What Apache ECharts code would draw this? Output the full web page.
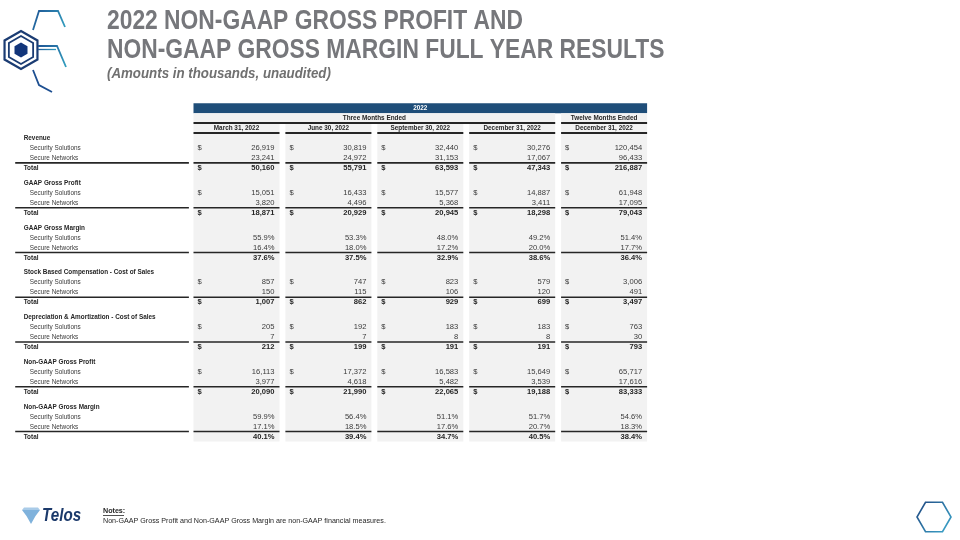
<!DOCTYPE html>
<html>
<head>
<meta charset="utf-8">
<title>2022 Non-GAAP Gross Profit and Gross Margin</title>
<script src="https://cdn.jsdelivr.net/npm/echarts@6/dist/echarts.min.js"></script>
<style>
  html, body { margin: 0; padding: 0; background: #fff; }
  #chart { width: 960px; height: 540px; }
</style>
</head>
<body>
<div id="chart"></div>
<script>
// ---- table data (amounts in thousands) ----
const yearLabel = '2022';
const groupLabels = ['Three Months Ended', 'Twelve Months Ended'];
const periodLabels = ['March 31, 2022', 'June 30, 2022', 'September 30, 2022', 'December 31, 2022', 'December 31, 2022'];
const sectionTitles = [
  'Revenue',
  'GAAP Gross Profit',
  'GAAP Gross Margin',
  'Stock Based Compensation - Cost of Sales',
  'Depreciation & Amortization - Cost of Sales',
  'Non-GAAP Gross Profit',
  'Non-GAAP Gross Margin'
];
const rowLabels = ['Security Solutions', 'Secure Networks', 'Total'];
const sectionIsPercent = [false, false, true, false, false, false, true];

const revenueSecurity = [26919, 30819, 32440, 30276, 120454];
const revenueNetworks = [23241, 24972, 31153, 17067, 96433];
const revenueTotal = [50160, 55791, 63593, 47343, 216887];

const gaapProfitSecurity = [15051, 16433, 15577, 14887, 61948];
const gaapProfitNetworks = [3820, 4496, 5368, 3411, 17095];
const gaapProfitTotal = [18871, 20929, 20945, 18298, 79043];

const gaapMarginSecurity = [55.9, 53.3, 48.0, 49.2, 51.4];
const gaapMarginNetworks = [16.4, 18.0, 17.2, 20.0, 17.7];
const gaapMarginTotal = [37.6, 37.5, 32.9, 38.6, 36.4];

const stockCompSecurity = [857, 747, 823, 579, 3006];
const stockCompNetworks = [150, 115, 106, 120, 491];
const stockCompTotal = [1007, 862, 929, 699, 3497];

const deprSecurity = [205, 192, 183, 183, 763];
const deprNetworks = [7, 7, 8, 8, 30];
const deprTotal = [212, 199, 191, 191, 793];

const nonGaapProfitSecurity = [16113, 17372, 16583, 15649, 65717];
const nonGaapProfitNetworks = [3977, 4618, 5482, 3539, 17616];
const nonGaapProfitTotal = [20090, 21990, 22065, 19188, 83333];

const nonGaapMarginSecurity = [59.9, 56.4, 51.1, 51.7, 54.6];
const nonGaapMarginNetworks = [17.1, 18.5, 17.6, 20.7, 18.3];
const nonGaapMarginTotal = [40.1, 39.4, 34.7, 40.5, 38.4];

const sectionRows = [
  [revenueSecurity, revenueNetworks, revenueTotal],
  [gaapProfitSecurity, gaapProfitNetworks, gaapProfitTotal],
  [gaapMarginSecurity, gaapMarginNetworks, gaapMarginTotal],
  [stockCompSecurity, stockCompNetworks, stockCompTotal],
  [deprSecurity, deprNetworks, deprTotal],
  [nonGaapProfitSecurity, nonGaapProfitNetworks, nonGaapProfitTotal],
  [nonGaapMarginSecurity, nonGaapMarginNetworks, nonGaapMarginTotal]
];

// ---- layout (axis units: one column pitch on x, one row on y) ----
const COL_W = 0.936;          // width of a value column
const LABEL_X = -2;           // left edge of the label column
const SECTION_STEP = 4.5;     // 4 rows + half row gap
const LAST_Y = (sectionTitles.length - 1) * SECTION_STEP + 3;
const NARROW = "'Liberation Sans Narrow', 'Liberation Sans', Arial, sans-serif";
const WIDE = "'Liberation Sans', Arial, sans-serif";
const TXT = 7.6;
const SQUEEZE = 0.84;         // Calibri-like width for labels

const GRAY = '#f2f2f2';
const BLUE = '#1f4e79';
const INK = '#262626';
const SOFT = '#3a3a3a';

const fmt = (v, pct) => pct ? v.toFixed(1) + '%' : v.toLocaleString('en-US');

// build cells
const rects = [];   // [x0, y0, x1, y1] + fill
const rules = [];   // [x0, y, x1] + width
const texts = [];   // [x, y] + text props

function addText(x, y, text, o) {
  texts.push(Object.assign({
    value: [x, y], text: text, dx: 0, align: 'left', bold: false,
    color: null, font: NARROW, sx: SQUEEZE
  }, o || {}));
}

// header bands
const lastCol = periodLabels.length - 1;
rects.push({ value: [0, -3.5, lastCol + COL_W, -2.5], fill: BLUE });
addText((lastCol + COL_W) / 2, -3, yearLabel, { align: 'center', bold: true, color: '#ffffff' });

rects.push({ value: [0, -2.5, lastCol - 1 + COL_W, -1.5], fill: GRAY });
rects.push({ value: [lastCol, -2.5, lastCol + COL_W, -1.5], fill: GRAY });
addText((lastCol - 1 + COL_W) / 2, -2, groupLabels[0], { align: 'center', bold: true });
addText(lastCol + COL_W / 2, -2, groupLabels[1], { align: 'center', bold: true });
rules.push({ value: [0, -1.5, lastCol - 1 + COL_W], width: 2 });
rules.push({ value: [lastCol, -1.5, lastCol + COL_W], width: 2 });

periodLabels.forEach((p, c) => {
  rects.push({ value: [c, -1.5, c + COL_W, LAST_Y + 0.5], fill: GRAY });
  addText(c + COL_W / 2, -1, p, { align: 'center', bold: true });
  rules.push({ value: [c, -0.5, c + COL_W], width: 2 });
});

// body
sectionTitles.forEach((title, s) => {
  const y0 = s * SECTION_STEP;
  const pct = sectionIsPercent[s];
  addText(LABEL_X, y0, title, { dx: 14, bold: true });
  sectionRows[s].forEach((vals, r) => {
    const y = y0 + 1 + r;
    const isTotal = r === 2;
    addText(LABEL_X, y, rowLabels[r], { dx: isTotal ? 14 : 20, bold: isTotal });
    vals.forEach((v, c) => {
      if (!pct && r !== 1) addText(c, y, '$', { dx: 4, bold: isTotal, font: WIDE, sx: 1 });
      addText(c + COL_W, y, fmt(v, pct), { dx: -5, align: 'right', bold: isTotal, font: WIDE, sx: 1 });
    });
  });
  rules.push({ value: [LABEL_X + 0.06, y0 + 2.5, -0.05], width: 1.6 });
  periodLabels.forEach((p, c) => {
    rules.push({ value: [c, y0 + 2.5, c + COL_W], width: 1.6 });
  });
});

// ---- decorations ----
function hexPoints(cx, cy, r, pointyTop) {
  const pts = [];
  for (let i = 0; i < 6; i++) {
    const a = Math.PI / 180 * (60 * i + (pointyTop ? 30 : 0));
    pts.push([cx + r * Math.cos(a), cy + r * Math.sin(a)]);
  }
  return pts;
}
const logoGrad = new echarts.graphic.LinearGradient(0, 0, 1, 1, [
  { offset: 0, color: '#1d4f91' }, { offset: 1, color: '#35a7c4' }
]);
const titleStyle = { fontFamily: NARROW, fontSize: 28, fontWeight: 'bold', fill: '#76777b', verticalAlign: 'middle' };

const chart = echarts.init(document.getElementById('chart'));

const option = {
  animation: false,
  backgroundColor: '#ffffff',
  grid: { left: 9.7, right: 312.9, top: 103.2, bottom: 98.5 },
  xAxis: { type: 'value', min: LABEL_X, max: lastCol + COL_W, show: false },
  yAxis: { type: 'value', min: -3.5, max: LAST_Y + 0.5, inverse: true, show: false },
  graphic: [
    // title block
    { type: 'text', x: 107, y: 21, scaleX: 0.815, style: Object.assign({ text: '2022 NON-GAAP GROSS PROFIT AND' }, titleStyle), silent: true },
    { type: 'text', x: 107, y: 50, scaleX: 0.815, style: Object.assign({ text: 'NON-GAAP GROSS MARGIN FULL YEAR RESULTS' }, titleStyle), silent: true },
    { type: 'text', x: 107, y: 74, scaleX: 0.95, style: { text: '(Amounts in thousands, unaudited)', fontFamily: NARROW, fontSize: 14, fontStyle: 'italic', fontWeight: 'bold', fill: '#707070', verticalAlign: 'middle' }, silent: true },
    // top-left hexagon logo
    { type: 'polygon', shape: { points: hexPoints(21, 50, 19, true) }, style: { fill: 'none', stroke: '#1b3c73', lineWidth: 2.2 }, silent: true },
    { type: 'polygon', shape: { points: hexPoints(21, 50, 14, true) }, style: { fill: 'none', stroke: '#1b3c73', lineWidth: 1.8 }, silent: true },
    { type: 'polygon', shape: { points: hexPoints(21, 50, 7.5, true) }, style: { fill: '#12357a' }, silent: true },
    { type: 'polyline', shape: { points: [[33, 30], [39, 11], [58, 11], [65, 27]] }, style: { stroke: logoGrad, lineWidth: 1.8, fill: 'none' }, silent: true },
    { type: 'polyline', shape: { points: [[38, 46], [57, 46], [66, 67]] }, style: { stroke: logoGrad, lineWidth: 1.8, fill: 'none' }, silent: true },
    { type: 'polyline', shape: { points: [[38, 49.5], [56, 49.5]] }, style: { stroke: logoGrad, lineWidth: 1.3, fill: 'none' }, silent: true },
    { type: 'polyline', shape: { points: [[33, 70], [39, 85], [52, 92]] }, style: { stroke: '#1d4f91', lineWidth: 1.8, fill: 'none' }, silent: true },
    // bottom-right hexagon
    { type: 'polygon', shape: { points: hexPoints(934, 517, 17, false) }, style: { fill: 'none', stroke: new echarts.graphic.LinearGradient(0, 0, 1, 1, [{ offset: 0, color: '#1d3f7a' }, { offset: 1, color: '#3fb0d3' }]), lineWidth: 1.6 }, silent: true },
    // Telos logo
    { type: 'polygon', shape: { points: [[22, 510], [40, 510], [35.5, 516], [31, 524], [26.5, 516]] }, style: { fill: '#7fb2dc' }, silent: true },
    { type: 'polygon', shape: { points: [[24, 507.5], [38, 507.5], [40, 510], [22, 510]] }, style: { fill: '#a9cbe8' }, silent: true },
    { type: 'text', x: 42, y: 516, scaleX: 0.8, style: { text: 'Telos', fontFamily: WIDE, fontSize: 19, fontWeight: 'bold', fontStyle: 'italic', fill: '#1c3a6b', verticalAlign: 'middle' }, silent: true },
    // notes
    { type: 'text', x: 103, y: 511, scaleX: 0.94, style: { text: 'Notes:', fontFamily: NARROW, fontSize: TXT, fontWeight: 'bold', fill: INK, verticalAlign: 'middle' }, silent: true },
    { type: 'line', shape: { x1: 103, y1: 515.5, x2: 124, y2: 515.5 }, style: { stroke: INK, lineWidth: 0.8 }, silent: true },
    { type: 'text', x: 103, y: 521, scaleX: 0.94, style: { text: 'Non-GAAP Gross Profit and Non-GAAP Gross Margin are non-GAAP financial measures.', fontFamily: NARROW, fontSize: TXT, fill: INK, verticalAlign: 'middle' }, silent: true }
  ],
  series: [
    {
      type: 'custom',
      name: 'cells',
      clip: false,
      silent: true,
      z: 1,
      data: rects.map(r => r.value),
      renderItem: (params, api) => {
        const p0 = api.coord([api.value(0), api.value(1)]);
        const p1 = api.coord([api.value(2), api.value(3)]);
        return {
          type: 'rect',
          shape: { x: p0[0], y: p0[1], width: p1[0] - p0[0], height: p1[1] - p0[1] },
          style: { fill: rects[params.dataIndex].fill }
        };
      }
    },
    {
      type: 'custom',
      name: 'rules',
      clip: false,
      silent: true,
      z: 2,
      data: rules.map(r => r.value),
      renderItem: (params, api) => {
        const p0 = api.coord([api.value(0), api.value(1)]);
        const p1 = api.coord([api.value(2), api.value(1)]);
        return {
          type: 'line',
          shape: { x1: p0[0], y1: p0[1], x2: p1[0], y2: p1[1] },
          style: { stroke: INK, lineWidth: rules[params.dataIndex].width }
        };
      }
    },
    {
      type: 'custom',
      name: 'texts',
      clip: false,
      silent: true,
      z: 3,
      data: texts.map(t => t.value),
      renderItem: (params, api) => {
        const t = texts[params.dataIndex];
        const p = api.coord([api.value(0), api.value(1)]);
        return {
          type: 'text',
          x: p[0] + t.dx,
          y: p[1],
          scaleX: t.sx,
          style: {
            text: t.text,
            fontFamily: t.font,
            fontSize: TXT,
            fontWeight: t.bold ? 'bold' : 'normal',
            fill: t.color || (t.bold ? INK : SOFT),
            align: t.align,
            verticalAlign: 'middle'
          }
        };
      }
    }
  ]
};

chart.setOption(option);
window.addEventListener('resize', () => chart.resize());
</script>
</body>
</html>
